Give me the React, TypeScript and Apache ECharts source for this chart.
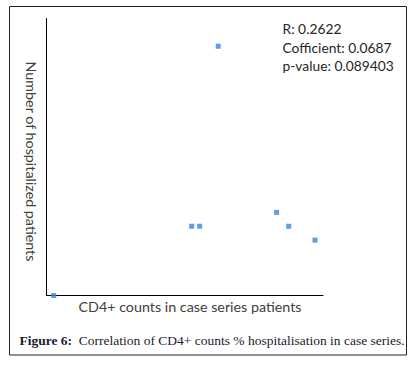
import React, { useEffect, useRef } from "react";
import * as echarts from "echarts";

const cd4Counts = [26, 525, 554, 621, 832, 876, 971];
const hospitalized = [0, 5, 5, 18, 6, 5, 4];
const statLines = ["R: 0.2622", "Cofficient: 0.0687", "p-value: 0.089403"];
const xTitle = "CD4+ counts in case series patients";
const yTitle = "Number of hospitalized patients";
const captionLabel = "Figure 6:";
const captionText = "Correlation of CD4+ counts % hospitalisation in case series.";

export default function App() {
  const ref = useRef<HTMLDivElement>(null);
  useEffect(() => {
    if (!ref.current) return;
    const chart = echarts.init(ref.current, null, { renderer: "svg" });
    const sans = "Lato, 'Open Sans', sans-serif";
    chart.setOption({
      animation: false,
      backgroundColor: "#ffffff",
      grid: { left: 46.5, right: 94, top: 18.5, bottom: 71.5 },
      xAxis: {
        type: "value",
        min: 0,
        max: 1000,
        axisLine: { show: true, onZero: false, lineStyle: { color: "#000", width: 1 } },
        axisTick: { show: false },
        axisLabel: { show: false },
        splitLine: { show: false },
      },
      yAxis: {
        type: "value",
        min: 0,
        max: 20,
        axisLine: { show: true, onZero: false, lineStyle: { color: "#000", width: 1 } },
        axisTick: { show: false },
        axisLabel: { show: false },
        splitLine: { show: false },
      },
      series: [
        {
          type: "scatter",
          symbol: "rect",
          symbolSize: 5,
          itemStyle: { color: "#3a82e4" },
          data: cd4Counts.map((x, i) => [x, hospitalized[i]]),
          z: 5,
        },
      ],
      graphic: [
        {
          type: "rect",
          shape: { x: 9.5, y: 6.5, width: 397, height: 348.5 },
          style: { fill: "none", stroke: "#222", lineWidth: 1 },
          z: 0,
        },
        ...statLines.map((t, i) => ({
          type: "text",
          x: 282.5,
          y: 28.5 + i * 18.7,
          style: {
            text: t,
            font: `13.8px ${sans}`,
            fill: "#262626",
            verticalAlign: "middle",
          },
        })),
        {
          type: "text",
          x: 190,
          y: 306.7,
          style: {
            text: xTitle,
            font: `14.3px ${sans}`,
            fill: "#404040",
            align: "center",
            verticalAlign: "middle",
          },
        },
        {
          type: "text",
          x: 31.5,
          y: 161.5,
          rotation: -Math.PI / 2,
          style: {
            text: yTitle,
            font: `14.3px ${sans}`,
            fill: "#404040",
            align: "center",
            verticalAlign: "middle",
          },
        },
        {
          type: "text",
          x: 19.5,
          y: 340,
          style: {
            text: `{b|${captionLabel}}  {n|${captionText}}`,
            verticalAlign: "middle",
            rich: {
              b: { font: "bold 13.5px 'Liberation Serif', serif", fill: "#1a1a2e" },
              n: { font: "13.5px 'Liberation Serif', serif", fill: "#1a1a2e" },
            },
          },
        },
      ],
    });
    return () => chart.dispose();
  }, []);
  return (
    <div
      ref={ref}
      style={{ position: "fixed", left: 0, top: 0, width: 417, height: 367 }}
    />
  );
}
